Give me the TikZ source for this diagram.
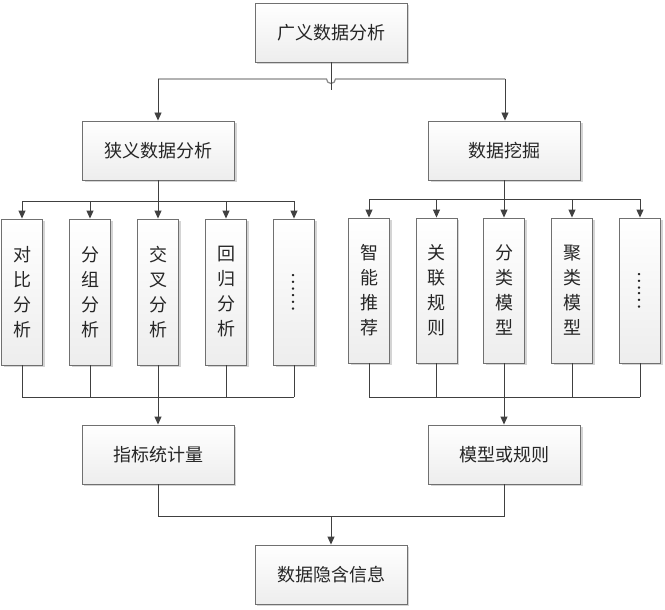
\documentclass[tikz,border=0pt]{standalone}
\usepackage{fontspec}
\newfontfamily\cjk{Noto Sans CJK SC}
\usetikzlibrary{arrows.meta,shadows}
\definecolor{edgec}{HTML}{707070}
\definecolor{linec}{HTML}{404040}
\definecolor{lightline}{HTML}{8A8A8A}
\definecolor{shadowc}{HTML}{D4D4D4}
\tikzset{
  boxbase/.style={draw=edgec, line width=0.9pt, top color=white, bottom color=black!7,
    drop shadow={shadow xshift=2pt, shadow yshift=-2pt, fill=shadowc, opacity=1},
    inner sep=0pt, font=\cjk\fontsize{18}{25}\selectfont, text=black!85},
  hbox/.style={boxbase, minimum width=152pt, minimum height=59pt},
  vbox/.style={boxbase, minimum width=41pt, minimum height=146pt, align=center},
  conn/.style={draw=linec, line width=0.9pt},
  arr/.style={conn, -{Triangle[length=8pt,width=7pt]}},
}
\begin{document}
\begin{tikzpicture}[x=1pt,y=-1pt]
\useasboundingbox[fill=white] (0,0) rectangle (665,610);
% main boxes
\node[hbox] (top) at (331,32.5) {广义数据分析};
\node[hbox] (narrow) at (158.5,150.5) {狭义数据分析};
\node[hbox] (mine) at (504.5,150.5) {数据挖掘};
\node[hbox] (stat) at (158,454.5) {指标统计量};
\node[hbox] (model) at (504.5,454.5) {模型或规则};
\node[hbox] (info) at (331,574.5) {数据隐含信息};
% left vertical boxes
\node[vbox] (l1) at (22,292) {对\\比\\分\\析};
\node[vbox] (l2) at (90,292) {分\\组\\分\\析};
\node[vbox] (l3) at (158,292) {交\\叉\\分\\析};
\node[vbox] (l4) at (226,292) {回\\归\\分\\析};
\node[vbox] (l5) at (294,292) {\rotatebox{-90}{……}};
% right vertical boxes
\node[vbox, minimum height=145pt] (r1) at (369,290.5) {智\\能\\推\\荐};
\node[vbox, minimum height=145pt] (r2) at (436.5,290.5) {关\\联\\规\\则};
\node[vbox, minimum height=145pt] (r3) at (504,290.5) {分\\类\\模\\型};
\node[vbox, minimum height=145pt] (r4) at (572,290.5) {聚\\类\\模\\型};
\node[vbox, minimum height=145pt] (r5) at (640,290.5) {\rotatebox{-90}{……}};
% coordinates
\coordinate (tj) at (331,90);
\coordinate (lj) at (158,201);
\coordinate (rj) at (504,199);
\coordinate (lb) at (158,397);
\coordinate (rb) at (504,397);
\coordinate (bj) at (331,516);
% top split
\draw[draw=lightline, line width=1.2pt] (158,79) -- (326.5,79) arc[start angle=180, end angle=0, radius=4.5] -- (505,79);
\draw[conn] (top.south) -- (tj);
\draw[arr] (158,79) -- (narrow.north -| 158,0);
\draw[arr] (505,79) -- (mine.north -| 505,0);
% left group
\draw[conn] (narrow.south -| lj) -- (lj);
\draw[conn] (l1.north |- lj) -- (l5.north |- lj);
\foreach \n in {l1,l2,l3,l4,l5} \draw[arr] (\n.north |- lj) -- (\n.north);
\foreach \n in {l1,l2,l3,l4,l5} \draw[conn] (\n.south) -- (\n.south |- lb);
\draw[conn] (l1.south |- lb) -- (l5.south |- lb);
\draw[arr] (lb) -- (stat.north -| lb);
% right group
\draw[conn] (mine.south -| rj) -- (rj);
\draw[conn] (r1.north |- rj) -- (r5.north |- rj);
\foreach \n in {r1,r2,r3,r4,r5} \draw[arr] (\n.north |- rj) -- (\n.north);
\foreach \n in {r1,r2,r3,r4,r5} \draw[conn] (\n.south) -- (\n.south |- rb);
\draw[conn] (r1.south |- rb) -- (r5.south |- rb);
\draw[arr] (rb) -- (model.north -| rb);
% bottom merge
\draw[conn] (stat.south) -- (stat.south |- bj) -- (model.south |- bj) -- (model.south);
\draw[arr] (bj) -- (info.north);
\end{tikzpicture}
\end{document}
